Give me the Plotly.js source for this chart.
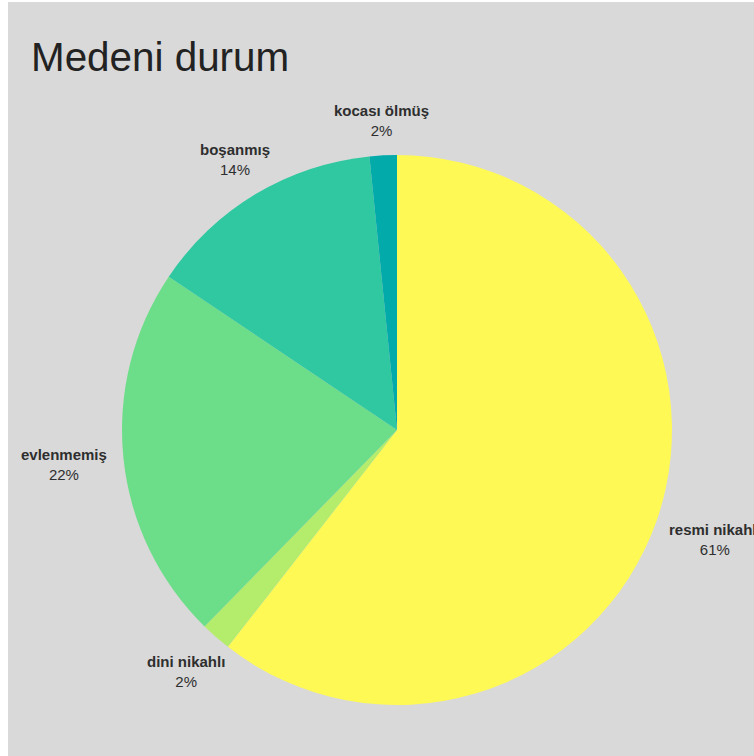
<!DOCTYPE html>
<html>
<head>
<meta charset="utf-8">
<script src="https://cdn.plot.ly/plotly-3.0.1.min.js"></script>
<style>
html,body{margin:0;padding:0;background:#fff;overflow:hidden;}
#chart{position:absolute;left:8px;top:2px;width:800px;height:800px;}
</style>
</head>
<body>
<div id="chart"></div>
<script>
const labels = ["resmi nikahlı", "dini nikahlı", "evlenmemiş", "boşanmış", "kocası ölmüş"];
const values = [60.6, 1.8, 22.1, 14.0, 1.6];
const colors = ["#fef955", "#b4ec6c", "#6cdd88", "#2fc8a0", "#02aaa9"];

const FIG_W = 800, FIG_H = 800;
const margin = {l: 80, r: 102, t: 153, b: 97};
const plotW = FIG_W - margin.l - margin.r;
const plotH = FIG_H - margin.t - margin.b;
const radius = Math.min(plotW, plotH) / 2;
const labelFont = "Liberation Sans, Arial, sans-serif";
const labelSize = 15;

// measure label boxes
const cv = document.createElement("canvas").getContext("2d");
function textW(t, bold) {
  cv.font = (bold ? "bold " : "") + labelSize + "px 'Liberation Sans', Arial, sans-serif";
  return cv.measureText(t).width;
}

const total = values.reduce((a, b) => a + b, 0);
const annotations = [];
let cum = 0;
values.forEach((v, i) => {
  const mid = (cum + v / 2) / total * 2 * Math.PI; // clockwise from top
  cum += v;
  const s = Math.sin(mid), c = Math.cos(mid);
  const pct = Math.round(v / total * 100) + "%";
  const halfW = Math.max(textW(labels[i], true), textW(pct, false)) / 2;
  const halfH = 17;
  const gap = 17.3;
  const D = radius + gap + Math.sqrt((halfW * s) ** 2 + (halfH * c) ** 2);
  annotations.push({
    xref: "paper", yref: "paper",
    x: 0.5 + D * s / plotW,
    y: 0.5 + D * c / plotH,
    xanchor: "center", yanchor: "middle",
    showarrow: false,
    align: "center",
    text: "<b>" + labels[i] + "</b><br>" + pct,
    font: {family: labelFont, size: labelSize, color: "#2e2e2e"}
  });
});

const trace = {
  type: "pie",
  labels: labels,
  values: values,
  sort: false,
  direction: "clockwise",
  rotation: 0,
  marker: {colors: colors, line: {width: 0}},
  textinfo: "none",
  showlegend: false,
  hoverinfo: "label+percent"
};

const layout = {
  width: FIG_W,
  height: FIG_H,
  paper_bgcolor: "#d9d9d9",
  plot_bgcolor: "#d9d9d9",
  margin: margin,
  title: {
    text: "Medeni durum",
    font: {family: labelFont, size: 40.4, color: "#222"},
    xref: "container", x: 23 / FIG_W, xanchor: "left",
    yref: "container", y: 1 - 55 / FIG_H, yanchor: "middle"
  },
  annotations: annotations,
  showlegend: false
};

Plotly.newPlot("chart", [trace], layout, {displayModeBar: false, staticPlot: true});
</script>
</body>
</html>
